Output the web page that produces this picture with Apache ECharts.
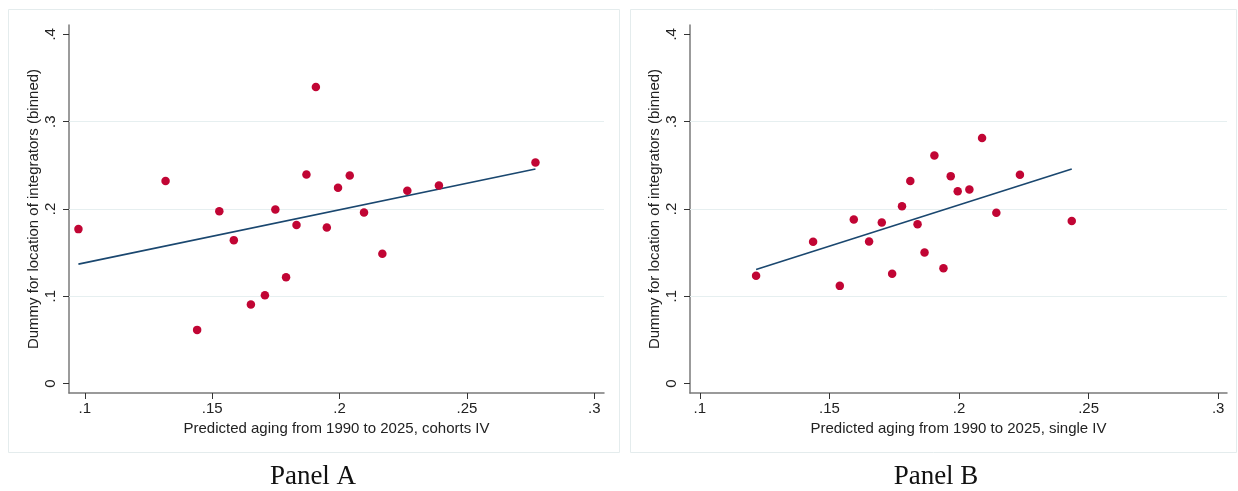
<!DOCTYPE html>
<html><head><meta charset="utf-8">
<script src="https://cdn.jsdelivr.net/npm/echarts@6/dist/echarts.min.js"></script>
<style>html,body{margin:0;padding:0;background:#fff}#c{width:1238px;height:491px}</style>
</head><body><div id="c"></div><script>
// Tick values
const xTicks = [0.1, 0.15, 0.2, 0.25, 0.3];
const yTicks = [0, 0.1, 0.2, 0.3, 0.4];
const gridTicks = [0.1, 0.2, 0.3];
// Panel A (cohorts IV) binned scatter
const xA = [0.0975,0.1317,0.1441,0.1528,0.1585,0.1652,0.1707,0.1748,0.1790,0.1831,0.1870,0.1907,0.1950,0.1994,0.2040,0.2096,0.2168,0.2266,0.2390,0.2769];
const yA = [0.1769,0.2319,0.0615,0.1975,0.1643,0.0905,0.1012,0.1994,0.1219,0.1815,0.2395,0.3396,0.1788,0.2243,0.2384,0.1960,0.1486,0.2208,0.2269,0.2533];
const fitAx = [0.0975, 0.2769];
const fitAy = [0.1368, 0.2457];
// Panel B (single IV) binned scatter
const xB = [0.1217,0.1437,0.1540,0.1594,0.1653,0.1702,0.1742,0.1780,0.1812,0.1840,0.1867,0.1905,0.1940,0.1968,0.1995,0.2040,0.2089,0.2144,0.2235,0.2435];
const yB = [0.1234,0.1624,0.1119,0.1880,0.1628,0.1845,0.1257,0.2032,0.2319,0.1826,0.1501,0.2613,0.1322,0.2376,0.2204,0.2223,0.2812,0.1956,0.2392,0.1861];
const fitBx = [0.1217, 0.2435];
const fitBy = [0.1307, 0.2457];
// Text
const xNameA = 'Predicted aging from 1990 to 2025, cohorts IV';
const xNameB = 'Predicted aging from 1990 to 2025, single IV';
const yName = 'Dummy for location of integrators (binned)';
const panelTitles = ['Panel A', 'Panel B'];

const zip = (a, b) => a.map((v, i) => [v, b[i]]);
const fmt = v => v === 0 ? '0' : String(v).replace(/^0/, '');
const FONT = 'Liberation Sans';
const axisCol = '#7a7a7a';

function xAxis(idx, min, max, name) {
  return {
    type: 'value', gridIndex: idx, min: min, max: max,
    name: name, nameLocation: 'middle', nameGap: 23,
    nameTextStyle: {fontFamily: FONT, fontSize: 15, color: '#222'},
    axisLine: {show: true, onZero: false, lineStyle: {color: axisCol, width: 1.5}},
    axisTick: {show: true, length: 6, customValues: xTicks, lineStyle: {color: '#333', width: 1}},
    axisLabel: {customValues: xTicks, formatter: fmt, margin: 8, fontFamily: FONT, fontSize: 15, color: '#222'},
    splitLine: {show: false}
  };
}
function yAxis(idx, name) {
  return {
    type: 'value', gridIndex: idx, min: -0.0108, max: 0.4107,
    name: name, nameLocation: 'middle', nameGap: 28,
    nameTextStyle: {fontFamily: FONT, fontSize: 15, color: '#222'},
    axisLine: {show: true, onZero: false, lineStyle: {color: axisCol, width: 1.5}},
    axisTick: {show: true, length: 6, customValues: yTicks, lineStyle: {color: '#333', width: 1}},
    axisLabel: {customValues: yTicks, formatter: fmt, rotate: 90, margin: 11, fontFamily: FONT, fontSize: 15, color: '#222'},
    splitLine: {show: false}
  };
}
function gridSeries(idx) {
  return {
    type: 'line', xAxisIndex: idx, yAxisIndex: idx, data: [], z: 1, silent: true,
    markLine: {silent: true, z: 1, symbol: 'none', label: {show: false}, animation: false,
      lineStyle: {color: '#e6eff0', width: 1.2, type: 'solid'},
      data: gridTicks.map(v => ({yAxis: v}))}
  };
}
function fitSeries(idx, xs, ys) {
  return {type: 'line', xAxisIndex: idx, yAxisIndex: idx, data: zip(xs, ys), symbol: 'none', z: 2,
    lineStyle: {color: '#1a476f', width: 1.6}, silent: true};
}
function scatterSeries(idx, xs, ys) {
  return {type: 'scatter', xAxisIndex: idx, yAxisIndex: idx, data: zip(xs, ys), symbolSize: 8.5, z: 3,
    itemStyle: {color: '#c10534', opacity: 1}, silent: true};
}

const chart = echarts.init(document.getElementById('c'), null, {renderer: 'canvas'});
chart.setOption({
  animation: false,
  backgroundColor: '#fff',
  grid: [
    {left: 69, right: 634, top: 25, bottom: 98},
    {left: 690, right: 11, top: 25, bottom: 98}
  ],
  xAxis: [xAxis(0, 0.0938, 0.3038, xNameA), xAxis(1, 0.0962, 0.3034, xNameB)],
  yAxis: [yAxis(0, yName), yAxis(1, yName)],
  series: [
    gridSeries(0), fitSeries(0, fitAx, fitAy), scatterSeries(0, xA, yA),
    gridSeries(1), fitSeries(1, fitBx, fitBy), scatterSeries(1, xB, yB)
  ],
  graphic: [
    {type: 'rect', silent: true, z: -1, shape: {x: 8.5, y: 9.5, width: 611, height: 443}, style: {fill: 'none', stroke: '#e4eced', lineWidth: 1}},
    {type: 'rect', silent: true, z: -1, shape: {x: 630.5, y: 9.5, width: 606, height: 443}, style: {fill: 'none', stroke: '#e4eced', lineWidth: 1}},
    {type: 'text', silent: true, x: 313, y: 477, style: {text: panelTitles[0], font: '27px "Liberation Serif"', fill: '#111', textAlign: 'center', textVerticalAlign: 'middle'}},
    {type: 'text', silent: true, x: 936, y: 477, style: {text: panelTitles[1], font: '27px "Liberation Serif"', fill: '#111', textAlign: 'center', textVerticalAlign: 'middle'}}
  ]
});
</script></body></html>
